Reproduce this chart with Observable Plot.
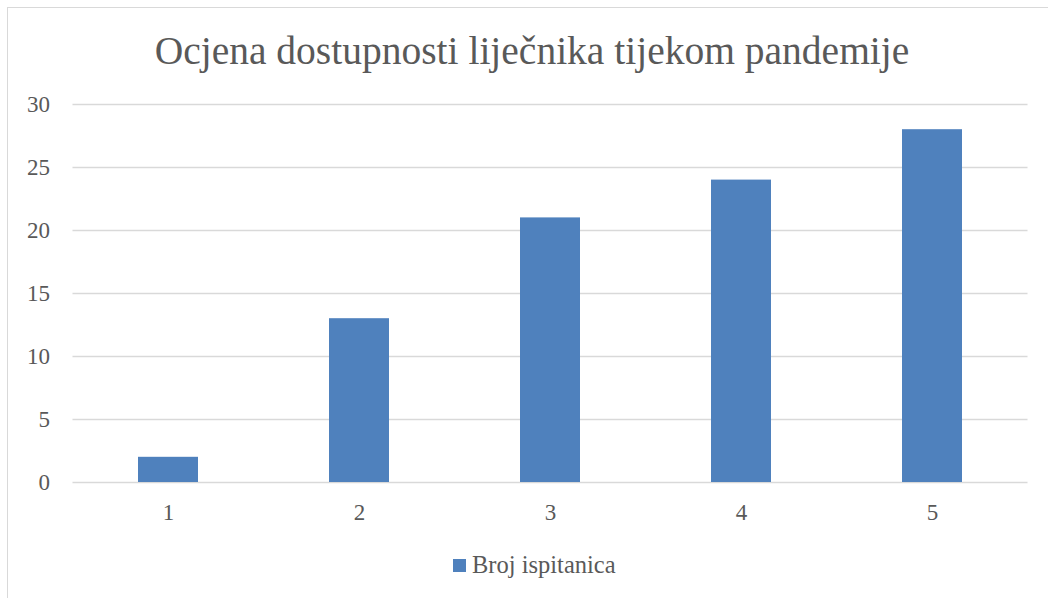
<!DOCTYPE html>
<html>
<head>
<meta charset="utf-8">
<script src="https://cdn.jsdelivr.net/npm/d3@7"></script>
<script src="https://cdn.jsdelivr.net/npm/@observablehq/plot@0.6"></script>
<style>
  html, body { margin: 0; padding: 0; background: #fff; overflow: hidden; }
  #wrap { position: relative; width: 1048px; height: 598px; overflow: hidden; font-family: "Liberation Serif", "DejaVu Serif", serif; color: #595959; }
  #frame { position: absolute; left: 7px; top: 7px; width: 1100px; height: 700px; border: 1px solid #d9d9d9; box-sizing: border-box; }
  #title { position: absolute; left: 0; width: 1064px; top: 28px; text-align: center; font-size: 39.5px; white-space: nowrap; }
  #legend { position: absolute; left: 453px; top: 551px; font-size: 24.5px; white-space: nowrap; display: flex; align-items: center; }
  #legend .sw { display: inline-block; width: 13px; height: 13px; background: #4f81bd; margin-right: 6px; }
  #chart { position: absolute; left: 0; top: 0; }
</style>
</head>
<body>
<div id="wrap">
  <div id="frame"></div>
  <div id="chart"></div>
  <div id="title">Ocjena dostupnosti liječnika tijekom pandemije</div>
  <div id="legend"><span class="sw"></span><span>Broj ispitanica</span></div>
</div>
<script>
const categories = ["1", "2", "3", "4", "5"];
const values = [2, 13, 21, 24, 28];
const seriesName = "Broj ispitanica";
const yTicks = [0, 5, 10, 15, 20, 25, 30];

const data = categories.map((c, i) => ({category: c, value: values[i], series: seriesName}));

const chart = Plot.plot({
  width: 1048,
  height: 598,
  marginTop: 104,
  marginBottom: 116,
  marginLeft: 72.5,
  marginRight: 20.5,
  style: {fontFamily: '"Liberation Serif", "DejaVu Serif", serif', fontSize: "23px", color: "#595959", background: "transparent"},
  x: {domain: categories, paddingInner: 0.686, paddingOuter: 0.343, label: null, tickSize: 0, tickPadding: 22},
  y: {domain: [0, 30], ticks: yTicks, label: null, tickSize: 0, tickPadding: 23},
  marks: [
    Plot.gridY(yTicks, {stroke: "#d9d9d9", strokeOpacity: 1, strokeWidth: 1.3}),
    Plot.barY(data, {x: "category", y: "value", fill: "#4f81bd"}),
    Plot.axisY({ticks: yTicks, tickSize: 0, tickPadding: 23, fill: "#595959", fontSize: 23}),
    Plot.axisX({tickSize: 0, tickPadding: 21, fill: "#595959", fontSize: 23})
  ]
});
document.getElementById("chart").appendChild(chart);
</script>
</body>
</html>
